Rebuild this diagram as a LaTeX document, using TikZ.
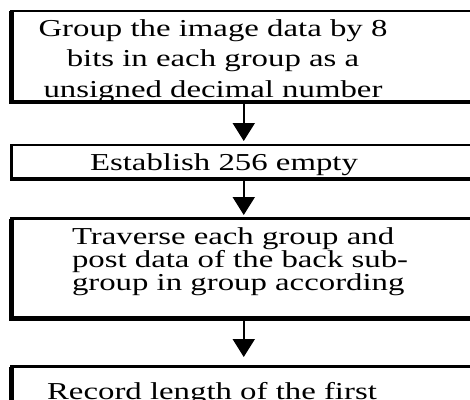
\documentclass[tikz,border=0pt]{standalone}
\usepackage{fontspec}
\setmainfont[FakeStretch=1.35]{Liberation Serif}
\usetikzlibrary{arrows.meta}
\begin{document}
\begin{tikzpicture}[x=1pt,y=-1pt,
  box/.style={draw=black,line width=2.8pt,inner sep=0pt,outer sep=0pt,rectangle},
  heavy/.style={draw=black,line width=4.5pt},
  txt/.style={inner sep=0pt,outer sep=0pt,font=\fontsize{24.3}{30.3}\selectfont,text=black},
  flow/.style={draw=black,line width=2pt,-{Triangle[width=22pt,length=18pt]}}]
\useasboundingbox (0,0) rectangle (470,399);
\clip (0,0) rectangle (470,399);
\fill[white] (0,0) rectangle (470,399);
% boxes
\node[box,minimum width=464.5pt,minimum height=91pt] (b1) at (243.75,56.5) {};
\node[box,minimum width=464.5pt,minimum height=34pt] (b2) at (243.75,162) {};
\node[box,minimum width=464.5pt,minimum height=100pt] (b3) at (243.75,268.5) {};
\node[box,minimum width=464.5pt,minimum height=93.3pt] (b4) at (243.75,413.35) {};
% texts (base anchor = baseline of the last line)
\node[txt,align=center,anchor=base] (t1) at (213,97) {Group the image data by 8\\bits in each group as a\\unsigned decimal number};
\node[txt,anchor=base] (t2) at (224,170.5) {Establish 256 empty};
\node[txt,align=left,anchor=base west,font=\fontsize{24.3}{22.3}\selectfont] (t3) at (72,290) {Traverse each group and\\post data of the back sub-\\group in group according};
\node[txt,anchor=base] (t4) at (212,399) {Record length of the first};
% heavier left and bottom sides
\draw[heavy] (b1.north west) -- (b1.south west) -- (b1.south east);
\draw[heavy,line width=3.6pt] (b2.north west) -- (b2.south west) -- (b2.south east);
\draw[heavy] (b3.north west) -- (b3.south west) -- (b3.south east);
\draw[heavy] (b4.north west) -- (b4.south west);
% connectors
\draw[flow,shorten >=4pt] (b1.south) -- (b2.north);
\draw[flow,shorten >=3.5pt] (b2.south) -- (b3.north);
\draw[flow,shorten >=9.7pt] (b3.south) -- (b4.north);
\end{tikzpicture}
\end{document}
